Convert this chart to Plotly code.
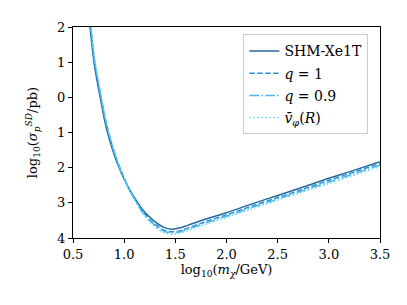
import plotly.graph_objects as go

# data
log_mass = [0.64, 0.666, 0.708, 0.764, 0.829, 0.927, 1.041, 1.10, 1.187, 1.285, 1.383, 1.465,
            1.55, 1.62, 1.8, 2.0, 2.25, 2.5, 2.75, 3.0, 3.25, 3.5]
shm_xe1t = [2.7, 2.0, 0.94, 0.02, -0.91, -1.83, -2.57, -2.85, -3.22, -3.50, -3.69, -3.75,
            -3.71, -3.64, -3.46, -3.28, -3.03, -2.79, -2.55, -2.30, -2.07, -1.83]
q_1 = [2.95, 2.2, 1.08, 0.15, -0.80, -1.77, -2.56, -2.87, -3.27, -3.57, -3.77, -3.82,
       -3.79, -3.72, -3.53, -3.34, -3.09, -2.85, -2.61, -2.36, -2.12, -1.88]
q_09 = [3.0, 2.25, 1.11, 0.17, -0.78, -1.76, -2.57, -2.89, -3.30, -3.60, -3.80, -3.85,
        -3.82, -3.75, -3.57, -3.38, -3.13, -2.89, -2.65, -2.41, -2.17, -1.93]
v_phi = [3.05, 2.3, 1.14, 0.19, -0.76, -1.75, -2.58, -2.91, -3.33, -3.64, -3.84, -3.89,
         -3.86, -3.79, -3.61, -3.42, -3.17, -2.93, -2.69, -2.45, -2.21, -1.97]

x_ticks = [0.5, 1.0, 1.5, 2.0, 2.5, 3.0, 3.5]
x_ticklabels = ["0.5", "1.0", "1.5", "2.0", "2.5", "3.0", "3.5"]
y_ticks = [2, 1, 0, -1, -2, -3, -4]
y_ticklabels = ["2", "1", "0", "1", "2", "3", "4"]

series = [
    ("SHM-Xe1T", shm_xe1t, "#276a9c", "solid"),
    ("<i>q</i> = 1", q_1, "#2f8ed6", "5.5px,2.4px"),
    ("<i>q</i> = 0.9", q_09, "#4ab6ee", "9.6px,2.4px,1.5px,2.4px"),
    ("<i>v̄</i><sub><i>φ</i></sub>(<i>R</i>)", v_phi, "#5cdcf6", "1.5px,2.5px"),
]

SERIF = "DejaVu Serif"

fig = go.Figure()
for i, (name, ys, color, dash) in enumerate(series):
    fig.add_trace(go.Scatter(
        x=log_mass, y=ys, mode="lines", name=name, legendgroup=str(i),
        line=dict(color=color, dash=dash, width=1.5, shape="spline", smoothing=0.9),
    ))

fig.update_layout(
    width=399, height=297,
    margin=dict(l=65, r=27, t=14, b=67),
    plot_bgcolor="white", paper_bgcolor="white",
    font=dict(family=SERIF, size=13, color="black"),
    showlegend=True,
    legend=dict(
        x=0.555, y=0.965, xanchor="left", yanchor="top",
        bordercolor="#cccccc", borderwidth=1, bgcolor="white",
        font=dict(family=SERIF, size=14, color="black"),
        tracegroupgap=1, itemwidth=30,
    ),
)
fig.update_xaxes(
    range=[0.5, 3.5], tickvals=x_ticks, ticktext=x_ticklabels,
    showgrid=False, zeroline=False,
    showline=True, linecolor="black", linewidth=1, mirror=True,
    ticks="outside", ticklen=4, tickcolor="black",
    tickfont=dict(family=SERIF, size=13),
    title=dict(text="log<sub>10</sub>(<i>m</i><sub><i>χ</i></sub>/GeV)", standoff=4,
               font=dict(family=SERIF, size=13)),
)
fig.update_yaxes(
    range=[-4, 2], tickvals=y_ticks, ticktext=y_ticklabels,
    showgrid=False, zeroline=False,
    showline=True, linecolor="black", linewidth=1, mirror=True,
    ticks="outside", ticklen=4, tickcolor="black",
    tickfont=dict(family=SERIF, size=13),
    title=dict(text="log<sub>10</sub>(<i>σ</i><sub><i>p</i></sub><sup><i>SD</i></sup>/pb)", standoff=16,
               font=dict(family=SERIF, size=13)),
)

fig.write_html("out.html")
